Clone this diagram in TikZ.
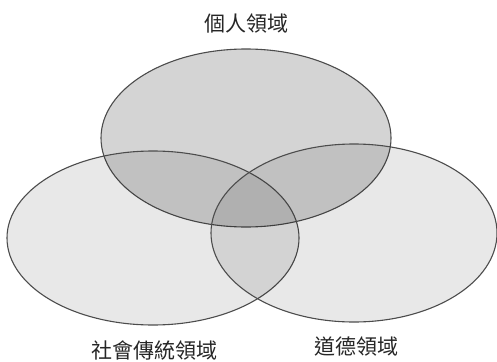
\documentclass[tikz,border=0pt]{standalone}
\usepackage{fontspec}
\newfontfamily\cjk{Noto Sans CJK TC}
\begin{document}
\begin{tikzpicture}[x=1pt,y=-1pt,
  venn/.style={draw=black!70,line width=1.1pt,fill=black,fill opacity=#1,draw opacity=1},
  lbl/.style={font=\cjk\fontsize{21}{23}\selectfont,text=black!85,inner sep=0pt}]
\useasboundingbox (0,0) rectangle (497,361);
\path[venn=0.17] (246,138) ellipse [x radius=145,y radius=89];
\path[venn=0.09] (153,238) ellipse [x radius=146,y radius=87];
\path[venn=0.09] (354,233) ellipse [x radius=143,y radius=89];
\node[lbl] (personal) at (246,23) {個人領域};
\node[lbl] (social) at (154,350) {社會傳統領域};
\node[lbl] (moral) at (356,346) {道德領域};
\end{tikzpicture}
\end{document}
